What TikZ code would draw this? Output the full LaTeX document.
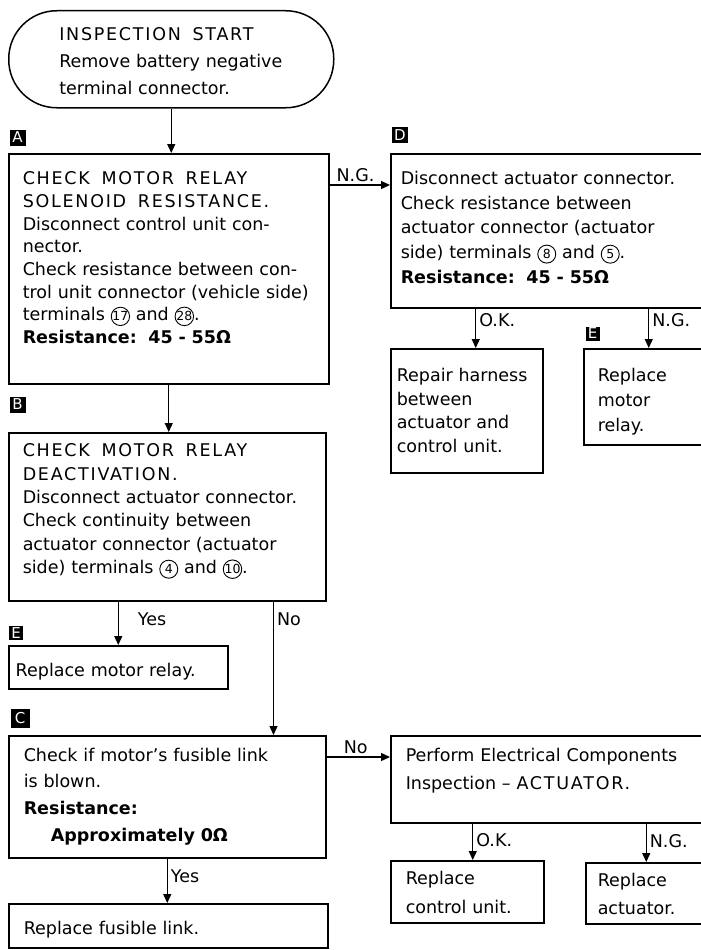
\documentclass[tikz,border=0pt]{standalone}
\usepackage{fontspec}
\setmainfont{DejaVu Sans}
\usetikzlibrary{arrows.meta, positioning, calc}

% circled terminal number
\newcommand{\cnum}[1]{\tikz[baseline=(cn.base)]\node[draw, circle, line width=0.9pt, inner sep=0pt, minimum size=18pt, text width={}, text height={}, text depth={}, anchor=center, align=center, font=\fontsize{12.5}{12.5}\selectfont] (cn) {#1};}
% wide capitals
\newcommand{\caps}[1]{{\addfontfeature{LetterSpace=10}#1}}

\begin{document}
\begin{tikzpicture}[
    x=1pt, y=-1pt,
    box/.style={draw, line width=1.5pt, anchor=north west, align=left, inner ysep=0pt, font=\fontsize{17.5}{22.7}\selectfont},
    lsp/.style={font=\fontsize{17.5}{#1}\selectfont},
    tag/.style={fill=black, text=white, inner sep=0pt, minimum size=16pt, font=\fontsize{15}{15}\selectfont},
    lbl/.style={font=\fontsize{17.5}{17.5}\selectfont, inner sep=3pt},
    arrow/.style={line width=1.3pt, -{Triangle[length=9pt, width=8pt]}}
]
\useasboundingbox (0,0) rectangle (701,950);

% left column
\node[box, rounded corners=48pt, text width=224pt, inner xsep=50.5pt, text height=29.5pt, text depth=67.5pt, lsp=27.3pt] (start) at (8,10) {\caps{INSPECTION\ \ START}\\Remove battery negative\\terminal connector.};
\node[box, text width=292pt, inner xsep=14pt, text height=31pt, text depth=199pt] (relay) at (8,153) {\caps{CHECK\ \ MOTOR\ \ RELAY}\\\caps{SOLENOID\ \ RESISTANCE.}\\Disconnect control unit con-\\nector.\\Check resistance between con-\\trol unit connector (vehicle side)\\terminals \cnum{17} and \cnum{28}.\\\textbf{Resistance:\ \ 45 - 55Ω}};
\node[box, text width=289pt, inner xsep=14pt, text height=24pt, text depth=144pt, lsp=23.4pt] (deact) at (8,432) {\caps{CHECK\ \ MOTOR\ \ RELAY}\\\caps{DEACTIVATION.}\\Disconnect actuator connector.\\Check continuity between\\actuator connector (actuator\\side) terminals \cnum{4} and \cnum{10}.};
\node[box, text width=205pt, inner xsep=7pt, text height=30.5pt, text depth=12.5pt] (fixE) at (8,645) {Replace motor relay.};
\node[box, text width=287pt, inner xsep=15pt, text height=25.5pt, text depth=96.5pt, lsp=26.7pt] (fuse) at (8,735) {Check if motor’s fusible link\\is blown.\\\textbf{Resistance:}\\\hspace*{27pt}\textbf{Approximately 0Ω}};
\node[box, text width=289pt, inner xsep=15pt, text height=30.5pt, text depth=13.5pt] (link) at (8,903) {Replace fusible link.};

% right column
\node[box, text width=296pt, inner xsep=10pt, text height=30.5pt, text depth=123.5pt, lsp=24.8pt] (actres) at (390,153) {Disconnect actuator connector.\\Check resistance between\\actuator connector (actuator\\side) terminals \cnum{8} and \cnum{5}.\\\textbf{Resistance:\ \ 45 - 55Ω}};
\node[box, text width=140pt, inner xsep=6pt, text height=33pt, text depth=91pt, lsp=23.5pt] (harness) at (390,348) {Repair harness\\between\\actuator and\\control unit.};
\node[box, text width=95pt, inner xsep=14pt, text height=33pt, text depth=63pt, lsp=25pt] (fixD) at (583,348) {Replace\\motor\\relay.};
\node[box, text width=286pt, inner xsep=15pt, text height=25.5pt, text depth=61.5pt, lsp=28pt] (perform) at (390,735) {Perform Electrical Components\\Inspection – \caps{ACTUATOR.}};
\node[box, text width=123pt, inner xsep=15pt, text height=23.5pt, text depth=38.5pt, lsp=29pt] (ctrl) at (390,860) {Replace\\control unit.};
\node[box, text width=97pt, inner xsep=12pt, text height=23.5pt, text depth=37.5pt, lsp=28pt] (act) at (585,862) {Replace\\actuator.};

% step letters
\node[tag] (tagA) at (17.5,137.5) {A};
\node[tag] (tagB) at (17.5,404.5) {B};
\node[tag, minimum size=19pt] (tagC) at (20,718) {C};
\node[tag] (tagD) at (400,135) {D};
\node[tag, minimum size=14pt] (tagE1) at (592.5,333.5) {E};
\node[tag, minimum size=14pt] (tagE2) at (16,633) {E};

\draw[arrow] (start.south) -- (start.south |- relay.north);
\draw[arrow] (relay.south) -- (relay.south |- deact.north);
\draw[arrow] ([yshift=-32pt]relay.north east) -- node[lbl, above, pos=0.43] (ngA) {N.G.} ([yshift=-32pt]actres.north west);
\draw[arrow] ([xshift=9pt]harness.north |- actres.south) -- node[lbl, right, pos=0.3] (okD) {O.K.} ([xshift=9pt]harness.north);
\draw[arrow] ([xshift=3.5pt]fixD.north |- actres.south) -- node[lbl, right, pos=0.3] (ngD) {N.G.} ([xshift=3.5pt]fixD.north);
\draw[arrow] (fixE.north |- deact.south) -- node[lbl, right, pos=0.4, xshift=16pt] (yesB) {Yes} (fixE.north);
\draw[arrow] ([xshift=-53pt]deact.south east) -- node[lbl, right, pos=0.13] (noB) {No} ([xshift=-53pt]deact.south east |- fuse.north);
\draw[arrow] ([yshift=-22pt]fuse.north east) -- node[lbl, above, pos=0.46] (noC) {No} ([yshift=-22pt]perform.north west);
\draw[arrow] (fuse.south) -- node[lbl, right, pos=0.4] (yesC) {Yes} (fuse.south |- link.north);
\draw[arrow] ([xshift=5.5pt]ctrl.north |- perform.south) -- node[lbl, right, pos=0.45] (okP) {O.K.} ([xshift=5.5pt]ctrl.north);
\draw[arrow] (act.north |- perform.south) -- node[lbl, right, pos=0.45] (ngP) {N.G.} (act.north);
\end{tikzpicture}
\end{document}
